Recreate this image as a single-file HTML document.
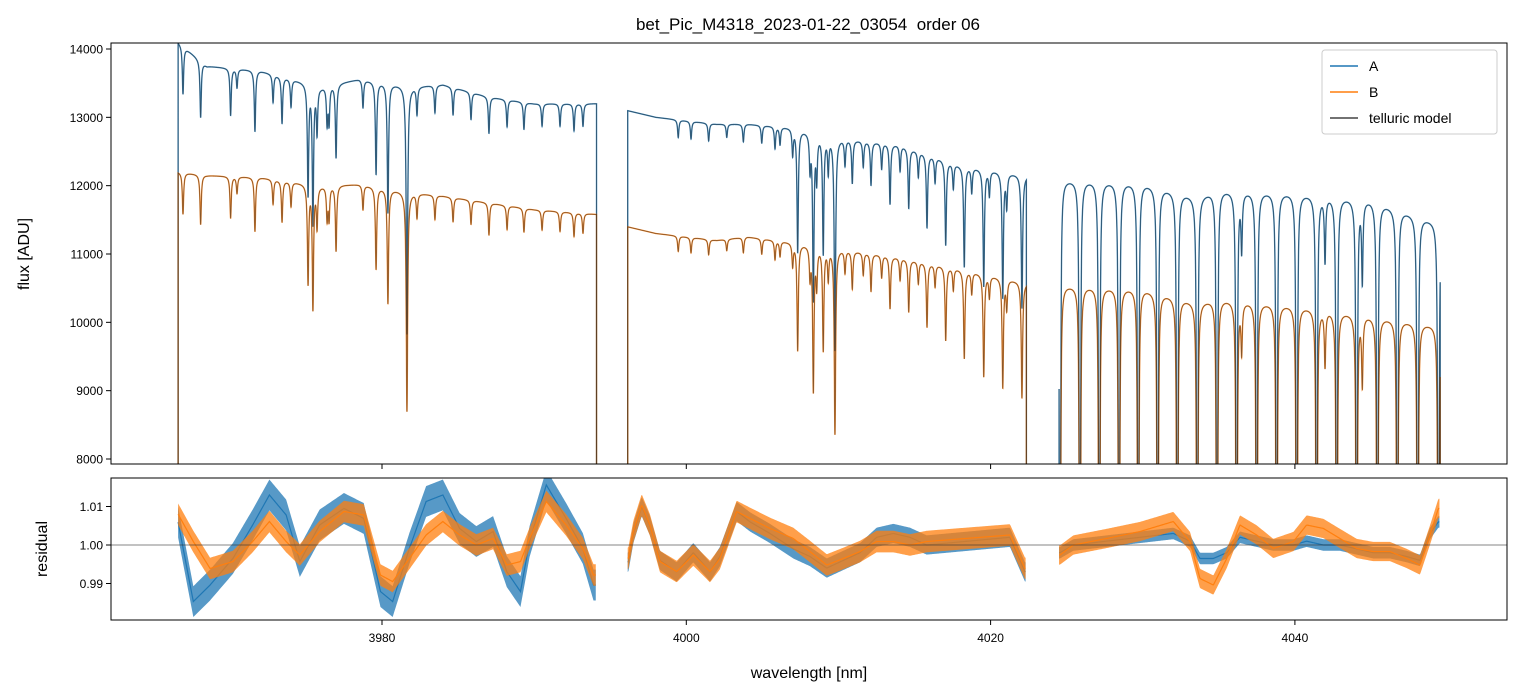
<!DOCTYPE html>
<html><head><meta charset="utf-8">
<style>
html,body{margin:0;padding:0;background:#fff;width:1520px;height:696px;overflow:hidden;position:relative;}
svg{display:block;position:absolute;left:0;top:0;overflow:hidden;font-family:"Liberation Sans","DejaVu Sans",sans-serif;}
</style></head>
<body>
<svg id="chart" width="1520" height="696" viewBox="0 0 1520 696">
<defs>
<clipPath id="clipTop"><rect x="111" y="43" width="1396" height="421"/></clipPath>
<clipPath id="clipBot"><rect x="111" y="478" width="1396" height="142"/></clipPath>
</defs>
<text x="808" y="30" text-anchor="middle" font-size="17" fill="#000">bet_Pic_M4318_2023-01-22_03054 &#160;order 06</text>
<g id="topPlot" clip-path="url(#clipTop)"></g>
<g id="botPlot" clip-path="url(#clipBot)"></g>
<g id="axes"></g>
<text x="0" y="0" transform="translate(29,254) rotate(-90)" text-anchor="middle" font-size="16">flux [ADU]</text>
<text x="0" y="0" transform="translate(47,549) rotate(-90)" text-anchor="middle" font-size="16">residual</text>
<text x="809" y="678" text-anchor="middle" font-size="16">wavelength [nm]</text>
<g>
<rect x="1322" y="50" width="175" height="84" rx="3" fill="#fff" fill-opacity="0.85" stroke="#ccc"/>
<line x1="1330" y1="66" x2="1358" y2="66" stroke="#1f77b4" stroke-width="1.5"/>
<text x="1369" y="71" font-size="14">A</text>
<line x1="1330" y1="92" x2="1358" y2="92" stroke="#ff7f0e" stroke-width="1.5"/>
<text x="1369" y="97" font-size="14">B</text>
<line x1="1330" y1="118" x2="1358" y2="118" stroke="#444" stroke-width="1.5"/>
<text x="1369" y="123" font-size="14">telluric model</text>
</g>
</svg>
<script>
// ---- data ----
const segments = [[3966.6,3994.1],[3996.15,4022.35],[4024.5,4049.55]];
const contWl = [3966.6,3968.5,3972,3976,3978.5,3982,3984,3987,3990,3994.1,
                3996.1,3998,4002,4004,4007,4010,4014,4018,4022.35,
                4024.5,4030,4033.5,4035,4040,4045,4049.55];
const contA = [14100,13750,13680,13450,13560,13450,13480,13300,13200,13200,
               13100,13000,12900,12900,12850,12700,12600,12300,12150,
               12100,12050,11850,11950,11900,11800,11450];
const contB = [12200,12150,12120,12000,12020,11900,11850,11750,11650,11580,
               11400,11300,11200,11250,11170,11080,10950,10780,10580,
               10550,10500,10300,10350,10250,10100,9950];
const lineWl = [3966.92,3968.08,3970.05,3970.47,3971.65,3972.84,3973.43,3974.02,3975.14,3975.46,3975.73,3976.39,3976.52,3976.98,3978.75,3979.61,3980.39,3981.64,3982.30,3983.48,3984.67,3985.85,3987.03,3988.22,3989.33,3990.52,3991.70,3992.62,3993.21,
  3999.47,4000.31,4001.47,4002.66,4003.75,4004.96,4005.83,4006.16,4006.99,
  4007.32,4008.13,4008.35,4008.57,4009.00,4009.33,4009.77,4010.43,4010.91,4011.63,4012.14,4012.84,4013.39,4014.05,4014.62,4015.25,4015.82,4016.35,4017.05,4017.55,4018.27,4018.76,4019.55,4019.92,4020.80,4021.06,4022.06,
  4024.56,4025.87,4027.14,4028.44,4029.70,4030.98,4032.27,4033.58,4034.88,4036.17,4036.50,4037.49,4038.80,4040.12,4041.43,4041.98,4042.75,4044.06,4044.43,4045.42,4046.73,4048.07,4049.43];
const lineDepth = [0.05,0.06,0.05,0.02,0.065,0.03,0.05,0.03,0.12,0.15,0.05,0.04,0.04,0.08,0.03,0.10,0.14,0.27,0.03,0.03,0.03,0.03,0.04,0.03,0.03,0.025,0.025,0.03,0.025,
  0.02,0.02,0.02,0.015,0.02,0.02,0.025,0.02,0.03,
  0.14,0.04,0.19,0.05,0.135,0.04,0.245,0.03,0.05,0.03,0.05,0.03,0.07,0.03,0.07,0.03,0.086,0.03,0.10,0.03,0.12,0.03,0.14,0.03,0.15,0.04,0.16,
  0.9995,0.9995,0.9995,0.9995,0.9995,0.9995,0.9995,0.9995,0.9995,0.9995,0.07,0.9995,0.9995,0.9995,0.9995,0.08,0.9995,0.9995,0.10,0.9995,0.9995,0.9995,0.9995];
// residual knots (center and half spread)
const resWl  = [3966.5,3967.6,3968.7,3970.2,3971.5,3972.6,3973.7,3974.6,3975.9,3977.5,3978.8,3979.9,3980.7,3981.8,3982.9,3984.0,3985.1,3986.2,3987.3,3988.2,3989.1,3989.7,3990.8,3992.1,3993.2,3993.9,
  3996.19,3996.52,3997.07,3997.61,3998.27,3999.37,4000.46,4001.56,4002.21,4003.31,4004.19,4005.50,4007.03,4008.13,4009.23,4010.32,4011.42,4012.51,4013.61,4014.70,4015.80,4021.27,4022.26,
  4024.56,4025.44,4027.63,4029.82,4032.01,4033.11,4033.76,4034.64,4035.52,4036.39,4037.49,4038.58,4039.90,4040.77,4041.87,4042.96,4044.06,4045.15,4046.25,4047.35,4048.22,4048.88,4049.43];
const resA = [1.008,0.9853,0.9896,0.9965,1.0052,1.013,1.0078,0.9957,1.0052,1.0095,1.0069,0.9879,0.9853,0.9991,1.0113,1.013,1.0043,1.0009,1.0035,0.9931,0.9879,1.0009,1.0156,1.0069,0.9991,0.9896,
  0.9955,1.003,1.010,1.005,0.996,0.993,0.998,0.993,0.997,1.0087,1.006,1.003,0.999,0.997,0.994,0.996,0.998,1.002,1.003,1.002,1.0,1.002,0.993,
  0.998,1.0,1.001,1.002,1.003,1.001,0.9965,0.9965,0.998,1.002,1.001,1.0,1.0,1.001,1.0,1.0,0.999,0.998,0.998,0.997,0.996,1.003,1.006];
const resB = [1.0087,1.0009,0.9939,0.9957,1.0009,1.0061,1.0009,0.9974,1.0035,1.0087,1.0078,0.9922,0.9905,0.9965,1.0026,1.0061,1.0026,1.0,1.0017,0.9948,0.9957,1.0017,1.0113,1.0052,0.9991,0.9922,
  0.9965,1.0035,1.0104,1.0052,0.9957,0.9931,0.9974,0.9931,0.9965,1.0087,1.0069,1.0043,1.0017,0.9983,0.9948,0.9965,0.9983,1.0009,1.0009,1.0,1.0009,1.0026,0.9939,
  0.9974,1.0,1.0017,1.0035,1.0061,1.0009,0.9913,0.9896,0.9965,1.0052,1.0026,0.9991,1.0009,1.0052,1.0043,1.0017,0.9991,0.9983,0.9983,0.9965,0.9948,1.0026,1.0095];
const spreadA = [0.004,0.0025,0.0015];
const spreadB = [0.0028,0.0028,0.0025];
const xTicks = [3980,4000,4020,4040];
const yTicksTop = [8000,9000,10000,11000,12000,13000,14000];
const yTicksBot = [0.99,1.00,1.01];
const yTickLabelsBot = ['0.99','1.00','1.01'];

// ---- scales ----
const X = wl => 382 + (wl - 3980) * 15.215;
const YT = f => 49 + (14000 - Math.max(f, 7500)) * 0.068333;
const YB = r => 545 - (Math.min(Math.max(r, 0.975), 1.025) - 1) * 3850;
const NS = 'http://www.w3.org/2000/svg';
function interp(xs, ys, x){
  if (x <= xs[0]) return ys[0];
  for (let i=1;i<xs.length;i++){ if (x <= xs[i]){ const t=(x-xs[i-1])/(xs[i]-xs[i-1]); return ys[i-1]+t*(ys[i]-ys[i-1]); } }
  return ys[ys.length-1];
}
function transmission(x){
  let tau = 0;
  for (let i=0;i<lineWl.length;i++){
    const d = x - lineWl[i];
    if (d > 4 || d < -4) continue;
    const w = lineDepth[i] > 0.5 ? 0.012 : 0.05;
    tau += -Math.log(1 - lineDepth[i]) / (1 + (d/w)*(d/w));
  }
  return Math.exp(-tau);
}
function mk(tag, parent){ const e=document.createElementNS(NS,tag); parent.appendChild(e); return e; }
const topG = document.getElementById('topPlot');
const botG = document.getElementById('botPlot');

// ---- top panel spectra ----
function specPath(seg, cont){
  let pts = [];
  pts.push(X(seg[0]).toFixed(2)+','+YT(0).toFixed(2));
  for (let x=seg[0]; x<=seg[1]; x+=0.004){
    pts.push(X(x).toFixed(2)+','+YT(interp(contWl,cont,x)*transmission(x)).toFixed(2));
  }
  pts.push(X(seg[1]).toFixed(2)+','+YT(0).toFixed(2));
  return 'M'+pts.join('L');
}
const series = [[contA,'#1f77b4','a'],[contB,'#ff7f0e','b']];
series.forEach(s=>{
  segments.forEach((seg,si)=>{
    const p = mk('path', topG);
    p.setAttribute('d', specPath(seg, s[0]));
    p.setAttribute('fill','none'); p.setAttribute('stroke', s[1]); p.setAttribute('stroke-width','1.4'); p.setAttribute('stroke-opacity','0.85');
    
    
  });
});
series.forEach(s=>{
  segments.forEach((seg,si)=>{
    const p = mk('path', topG);
    p.setAttribute('d', specPath(seg, s[0]));
    p.setAttribute('fill','none'); p.setAttribute('stroke', '#222'); p.setAttribute('stroke-width','0.8'); p.setAttribute('stroke-opacity','0.55');
    
    
  });
});

// ---- residual panel ----
function segKnots(seg){
  const idx=[]; resWl.forEach((w,i)=>{ if (w>=seg[0]-0.2 && w<=seg[1]+0.2) idx.push(i); }); return idx;
}
[[resA,spreadA,'#1f77b4','a'],[resB,spreadB,'#ff7f0e','b']].forEach(s=>{
  segments.forEach((seg,si)=>{
    const idx = segKnots(seg);
    const xs = idx.map(i=>resWl[i]), ys = idx.map(i=>s[0][i]);
    const sp = s[1][si];
    let upper=[], lower=[], mid=[];
    for (let x=seg[0]; x<=seg[1]; x+=0.05){
      const v = interp(xs, ys, x);
      upper.push(X(x).toFixed(2)+','+YB(v+sp).toFixed(2));
      lower.unshift(X(x).toFixed(2)+','+YB(v-sp).toFixed(2));
      mid.push(X(x).toFixed(2)+','+YB(v).toFixed(2));
    }
    const band = mk('path', botG);
    band.setAttribute('d','M'+upper.join('L')+'L'+lower.join('L')+'Z');
    band.setAttribute('fill', s[2]); band.setAttribute('fill-opacity','0.75');
    
    
    const ln = mk('path', botG);
    ln.setAttribute('d','M'+mid.join('L'));
    ln.setAttribute('fill','none'); ln.setAttribute('stroke', s[2]); ln.setAttribute('stroke-width','1.2');
    
    
  });
});
const ref = mk('line', botG);
ref.setAttribute('x1',111); ref.setAttribute('x2',1507); ref.setAttribute('y1',YB(1)); ref.setAttribute('y2',YB(1));
ref.setAttribute('stroke','#333'); ref.setAttribute('stroke-width','0.8'); ref.setAttribute('stroke-opacity','0.8');



// ---- axes ----
const ax = document.getElementById('axes');
[[43,464,'flux-axes-frame'],[478,620,'residual-axes-frame']].forEach(a=>{
  const r = mk('rect', ax);
  r.setAttribute('x',111); r.setAttribute('y',a[0]); r.setAttribute('width',1396); r.setAttribute('height',a[1]-a[0]);
  r.setAttribute('fill','none'); r.setAttribute('stroke','#000'); r.setAttribute('stroke-width','1');
  
  
});
xTicks.forEach(t=>{
  [464,620].forEach(yb=>{
    const l = mk('line', ax);
    l.setAttribute('x1',X(t)); l.setAttribute('x2',X(t)); l.setAttribute('y1',yb); l.setAttribute('y2',yb+5);
    l.setAttribute('stroke','#000');
    
    
  });
  const tx = mk('text', ax);
  tx.setAttribute('x',X(t)); tx.setAttribute('y',642); tx.setAttribute('text-anchor','middle'); tx.setAttribute('font-size','12');
  tx.textContent = t;
  
  
});
yTicksTop.forEach(t=>{
  const l = mk('line', ax);
  l.setAttribute('x1',106); l.setAttribute('x2',111); l.setAttribute('y1',YT(t)); l.setAttribute('y2',YT(t)); l.setAttribute('stroke','#000');
  
  
  const tx = mk('text', ax);
  tx.setAttribute('x',103); tx.setAttribute('y',YT(t)+4.5); tx.setAttribute('text-anchor','end'); tx.setAttribute('font-size','12');
  tx.textContent = t;
  
  
});
yTicksBot.forEach((t,i)=>{
  const l = mk('line', ax);
  l.setAttribute('x1',106); l.setAttribute('x2',111); l.setAttribute('y1',YB(t)); l.setAttribute('y2',YB(t)); l.setAttribute('stroke','#000');
  
  
  const tx = mk('text', ax);
  tx.setAttribute('x',103); tx.setAttribute('y',YB(t)+4.5); tx.setAttribute('text-anchor','end'); tx.setAttribute('font-size','12');
  tx.textContent = yTickLabelsBot[i];
  
  
});
</script>
</body></html>
